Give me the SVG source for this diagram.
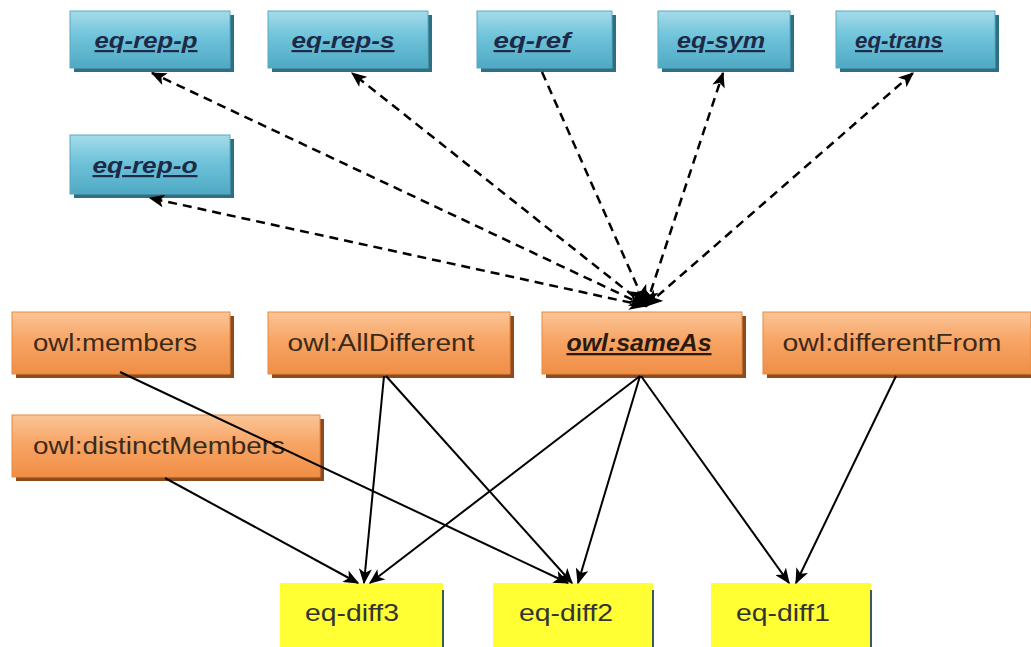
<svg xmlns="http://www.w3.org/2000/svg" width="1031" height="647" viewBox="0 0 1031 647">
  <defs>
    <linearGradient id="gBlue" x1="0" y1="0" x2="0" y2="1">
      <stop offset="0" stop-color="#a4dcea"/>
      <stop offset="0.45" stop-color="#6fc3da"/>
      <stop offset="1" stop-color="#4fa9c4"/>
    </linearGradient>
    <linearGradient id="gOrange" x1="0" y1="0" x2="0" y2="1">
      <stop offset="0" stop-color="#fbc597"/>
      <stop offset="0.45" stop-color="#f7a566"/>
      <stop offset="1" stop-color="#f08e45"/>
    </linearGradient>
    <marker id="arr" viewBox="0 0 12 10" refX="11" refY="5" markerWidth="16" markerHeight="13" markerUnits="userSpaceOnUse" orient="auto">
      <path d="M0,0 L12,5 L0,10 L3,5 Z" fill="#000"/>
    </marker>
    <marker id="arrStart" viewBox="0 0 12 10" refX="1" refY="5" markerWidth="18" markerHeight="16" markerUnits="userSpaceOnUse" orient="auto">
      <path d="M12,0 L0,5 L12,10 L9,5 Z" fill="#000"/>
    </marker>
    <marker id="arrBig" viewBox="0 0 12 10" refX="11" refY="5" markerWidth="22" markerHeight="20" markerUnits="userSpaceOnUse" orient="auto">
      <path d="M0,0 L12,5 L0,10 L3,5 Z" fill="#000"/>
    </marker>
  </defs>
  <style>
    .shadowB { fill: #2f6f82; }
    .shadowO { fill: #8c4a1e; }
    .blue { fill: url(#gBlue); stroke: #5aaac2; stroke-width: 1; }
    .orange { fill: url(#gOrange); stroke: #e8893e; stroke-width: 1; }
    .yellow { fill: #ffff33; }
    .yedge { stroke: #3c5a5a; stroke-width: 2; }
    .tb { font-family: "Liberation Sans", Arial, sans-serif; font-size: 22px; font-weight: bold; font-style: italic; text-decoration: underline; fill: #1c2a48; text-anchor: middle; }
    .to { font-family: "Liberation Sans", Arial, sans-serif; font-size: 23px; fill: #3b2a1a; text-anchor: middle; }
    .tu { font-family: "Liberation Sans", Arial, sans-serif; font-size: 23px; font-weight: bold; font-style: italic; text-decoration: underline; fill: #2a1a0e; text-anchor: middle; }
    .ty { font-family: "Liberation Sans", Arial, sans-serif; font-size: 24px; fill: #333; text-anchor: middle; }
    .dash { stroke: #000; stroke-width: 2.5; stroke-dasharray: 9 6; fill: none; }
    .solid { stroke: #000; stroke-width: 2; fill: none; }
  </style>

  <!-- rule nodes (blue) -->
  <g id="eq-rep-p">
    <rect class="shadowB" x="74" y="15" width="160" height="57"/>
    <rect class="blue" x="70" y="11" width="160" height="57"/>
    <text class="tb" x="146" y="48" textLength="103" lengthAdjust="spacingAndGlyphs">eq-rep-p</text>
  </g>
  <g id="eq-rep-s">
    <rect class="shadowB" x="272" y="15" width="160" height="57"/>
    <rect class="blue" x="268" y="11" width="160" height="57"/>
    <text class="tb" x="343" y="48" textLength="103" lengthAdjust="spacingAndGlyphs">eq-rep-s</text>
  </g>
  <g id="eq-ref">
    <rect class="shadowB" x="481" y="15" width="135" height="57"/>
    <rect class="blue" x="477" y="11" width="135" height="57"/>
    <text class="tb" x="532" y="48" textLength="77" lengthAdjust="spacingAndGlyphs">eq-ref</text>
  </g>
  <g id="eq-sym">
    <rect class="shadowB" x="662" y="15" width="132" height="57"/>
    <rect class="blue" x="658" y="11" width="132" height="57"/>
    <text class="tb" x="721" y="48" textLength="88" lengthAdjust="spacingAndGlyphs">eq-sym</text>
  </g>
  <g id="eq-trans">
    <rect class="shadowB" x="840" y="15" width="159" height="57"/>
    <rect class="blue" x="836" y="11" width="159" height="57"/>
    <text class="tb" x="899" y="48" textLength="88" lengthAdjust="spacingAndGlyphs">eq-trans</text>
  </g>
  <g id="eq-rep-o">
    <rect class="shadowB" x="74" y="139" width="160" height="59"/>
    <rect class="blue" x="70" y="135" width="160" height="59"/>
    <text class="tb" x="145" y="173" textLength="105" lengthAdjust="spacingAndGlyphs">eq-rep-o</text>
  </g>

  <!-- vocabulary nodes (orange) -->
  <g id="owl-members">
    <rect class="shadowO" x="16" y="316" width="218" height="62"/>
    <rect class="orange" x="12" y="312" width="218" height="62"/>
    <text class="to" x="115" y="351" textLength="164" lengthAdjust="spacingAndGlyphs">owl:members</text>
  </g>
  <g id="owl-AllDifferent">
    <rect class="shadowO" x="272" y="316" width="242" height="62"/>
    <rect class="orange" x="268" y="312" width="242" height="62"/>
    <text class="to" x="381" y="351" textLength="187" lengthAdjust="spacingAndGlyphs">owl:AllDifferent</text>
  </g>
  <g id="owl-sameAs">
    <rect class="shadowO" x="546" y="316" width="200" height="62"/>
    <rect class="orange" x="542" y="312" width="200" height="62"/>
    <text class="tu" x="639" y="351" textLength="145" lengthAdjust="spacingAndGlyphs">owl:sameAs</text>
  </g>
  <g id="owl-differentFrom">
    <rect class="shadowO" x="767" y="316" width="268" height="62"/>
    <rect class="orange" x="763" y="312" width="268" height="62"/>
    <text class="to" x="892" y="351" textLength="219" lengthAdjust="spacingAndGlyphs">owl:differentFrom</text>
  </g>
  <g id="owl-distinctMembers">
    <rect class="shadowO" x="16" y="419" width="308" height="62"/>
    <rect class="orange" x="12" y="415" width="308" height="62"/>
    <text class="to" x="159" y="454" textLength="252" lengthAdjust="spacingAndGlyphs">owl:distinctMembers</text>
  </g>

  <!-- derived rules (yellow) -->
  <g id="eq-diff3">
    <rect class="yellow" x="280" y="583" width="163" height="64"/>
    <line class="yedge" x1="443" y1="590" x2="443" y2="647"/>
    <text class="ty" x="352" y="621" textLength="94" lengthAdjust="spacingAndGlyphs">eq-diff3</text>
  </g>
  <g id="eq-diff2">
    <rect class="yellow" x="493" y="583" width="160" height="64"/>
    <line class="yedge" x1="653" y1="590" x2="653" y2="647"/>
    <text class="ty" x="566" y="621" textLength="94" lengthAdjust="spacingAndGlyphs">eq-diff2</text>
  </g>
  <g id="eq-diff1">
    <rect class="yellow" x="711" y="583" width="160" height="64"/>
    <line class="yedge" x1="871" y1="590" x2="871" y2="647"/>
    <text class="ty" x="783" y="621" textLength="94" lengthAdjust="spacingAndGlyphs">eq-diff1</text>
  </g>

  <!-- connectors -->
  <g id="connectors">
    <!-- owl:sameAs to the equality rules; the heads meet on top of owl:sameAs -->
    <line class="dash" x1="646" y1="306" x2="152" y2="73" marker-start="url(#arrStart)" marker-end="url(#arr)"/>
    <line class="dash" x1="646" y1="306" x2="352" y2="73" marker-start="url(#arrStart)" marker-end="url(#arr)"/>
    <line class="dash" x1="542" y1="72" x2="646" y2="306" marker-end="url(#arrBig)"/>
    <line class="dash" x1="646" y1="306" x2="723" y2="73" marker-start="url(#arrStart)" marker-end="url(#arr)"/>
    <line class="dash" x1="646" y1="306" x2="913" y2="73" marker-start="url(#arrStart)" marker-end="url(#arr)"/>
    <line class="dash" x1="646" y1="306" x2="150" y2="198" marker-start="url(#arrStart)" marker-end="url(#arr)"/>

    <!-- vocabulary to eq-diff rules -->
    <line class="solid" x1="120" y1="372" x2="568" y2="583" marker-end="url(#arr)"/>
    <line class="solid" x1="384" y1="376" x2="364" y2="583" marker-end="url(#arr)"/>
    <line class="solid" x1="386" y1="376" x2="572" y2="583" marker-end="url(#arr)"/>
    <line class="solid" x1="640" y1="376" x2="370" y2="583" marker-end="url(#arr)"/>
    <line class="solid" x1="640" y1="376" x2="578" y2="583" marker-end="url(#arr)"/>
    <line class="solid" x1="641" y1="376" x2="789" y2="583" marker-end="url(#arr)"/>
    <line class="solid" x1="896" y1="376" x2="796" y2="583" marker-end="url(#arr)"/>
    <line class="solid" x1="165" y1="478" x2="358" y2="583" marker-end="url(#arr)"/>
  </g>
</svg>
